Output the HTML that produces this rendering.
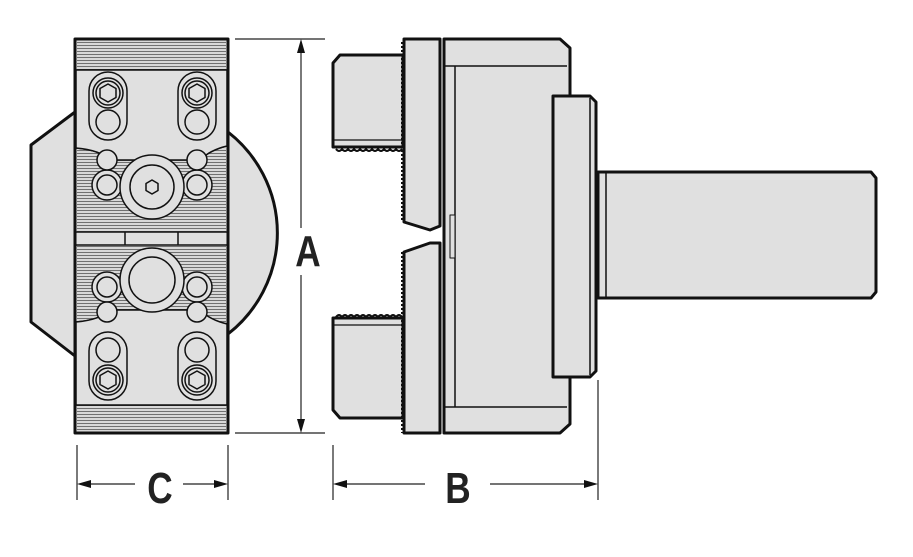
<!DOCTYPE html>
<html><head><style>html,body{margin:0;padding:0;background:#fff;width:913px;height:557px;overflow:hidden}</style></head>
<body>
<svg width="913" height="557" viewBox="0 0 913 557" xmlns="http://www.w3.org/2000/svg">
<defs>
<pattern id="kn" width="6" height="3" patternUnits="userSpaceOnUse"><rect width="6" height="3" fill="#d8d8d8"/><line x1="0" y1="0.5" x2="6" y2="0.5" stroke="#555" stroke-width="0.8"/></pattern>
</defs>
<g stroke="#111" fill="#e0e0e0" stroke-linejoin="round">
<!-- left view back disk -->
<path d="M75,112 L31,145 L31,322 L75,356 Z" stroke-width="3"/>
<path d="M228,132 A128,128 0 0 1 228,334 Z" stroke-width="3"/>
<!-- main rect -->
<rect x="75" y="39" width="153" height="394" stroke-width="3"/>
<rect x="77" y="41" width="149" height="29" fill="url(#kn)" stroke="none"/>
<rect x="77" y="405" width="149" height="26" fill="url(#kn)" stroke="none"/>
<rect x="77" y="148" width="149" height="84" fill="url(#kn)" stroke="none"/>
<rect x="77" y="245" width="149" height="77" fill="url(#kn)" stroke="none"/>
<path d="M76,70 H227 M76,405 H227" stroke-width="1.5"/>
<path d="M76,148 Q100,150 110,160 H200 Q210,150 227,146 M76,232 H227 M76,245 H227 M125,232 V245 M178,232 V245 M76,322 Q100,320 110,310 H200 Q210,320 227,324" stroke-width="1.5" fill="none"/>
<path d="M76,70 H227 V146 Q210,150 200,160 H110 Q100,150 76,148 Z" stroke-width="1.5"/>
<path d="M76,405 H227 V324 Q210,320 200,310 H110 Q100,320 76,322 Z" stroke-width="1.5"/>
<!-- slotted holes -->
<g stroke-width="1.5">
<rect x="89" y="72" width="38" height="68" rx="19"/><circle cx="108" cy="93" r="15"/><circle cx="108" cy="93" r="12"/><path d="M108,84 l8,4.5 v9 l-8,4.5 l-8,-4.5 v-9 z"/><circle cx="108" cy="122" r="12"/>
<rect x="178" y="72" width="38" height="68" rx="19"/><circle cx="197" cy="93" r="15"/><circle cx="197" cy="93" r="12"/><path d="M197,84 l8,4.5 v9 l-8,4.5 l-8,-4.5 v-9 z"/><circle cx="197" cy="122" r="12"/>
<rect x="89" y="332" width="38" height="68" rx="19"/><circle cx="108" cy="380" r="15"/><circle cx="108" cy="380" r="12"/><path d="M108,371 l8,4.5 v9 l-8,4.5 l-8,-4.5 v-9 z"/><circle cx="108" cy="350" r="12"/>
<rect x="178" y="332" width="38" height="68" rx="19"/><circle cx="197" cy="380" r="15"/><circle cx="197" cy="380" r="12"/><path d="M197,371 l8,4.5 v9 l-8,4.5 l-8,-4.5 v-9 z"/><circle cx="197" cy="350" r="12"/>
<!-- figure-8 details -->
<circle cx="107" cy="185" r="15"/><circle cx="107" cy="185" r="10"/><circle cx="107" cy="160" r="10"/>
<circle cx="197" cy="185" r="15"/><circle cx="197" cy="185" r="10"/><circle cx="197" cy="160" r="10"/>
<circle cx="152" cy="187" r="32"/><circle cx="152" cy="187" r="22"/><path d="M152,180 l6,3.5 v7 l-6,3.5 l-6,-3.5 v-7 z"/>
<circle cx="107" cy="287" r="15"/><circle cx="107" cy="287" r="10"/><circle cx="107" cy="312" r="10"/>
<circle cx="197" cy="287" r="15"/><circle cx="197" cy="287" r="10"/><circle cx="197" cy="312" r="10"/>
<circle cx="152" cy="280" r="32"/><circle cx="152" cy="280" r="23"/>
</g>
<!-- side view -->
<path d="M340,55 H403 V147 H333 V63 Z" stroke-width="3"/>
<path d="M333,318 H403 V418 H340 L333,410 Z" stroke-width="3"/>
<path d="M333,140 H403 M333,325 H403" stroke-width="1.2"/>
<path d="M336,149 q3,4 6,0 q3,4 6,0 q3,4 6,0 q3,4 6,0 q3,4 6,0 q3,4 6,0 q3,4 6,0 q3,4 6,0 q3,4 6,0 q3,4 6,0 q3,4 6,0" stroke-width="2" fill="none"/>
<path d="M336,317 q3,-4 6,0 q3,-4 6,0 q3,-4 6,0 q3,-4 6,0 q3,-4 6,0 q3,-4 6,0 q3,-4 6,0 q3,-4 6,0 q3,-4 6,0 q3,-4 6,0 q3,-4 6,0" stroke-width="2" fill="none"/>
<!-- clamp plates -->
<path d="M404,39 H440 V226 L430,230 L404,222 Z" stroke-width="3"/>
<path d="M404,252 L430,243 L440,243 V433 H404 Z" stroke-width="3"/>
<path d="M403,42 V222 M403,252 V433" stroke="#111" stroke-width="4" stroke-dasharray="2 2"/>
<!-- main body -->
<path d="M444,39 H560 L570,48 V424 L560,433 H444 Z" stroke-width="3"/>
<path d="M444,66 H567 M444,407 H567 M455,66 V407" stroke-width="1.5"/>
<rect x="450" y="215" width="5" height="43" stroke-width="1"/>
<!-- flange -->
<path d="M553,96 H590 L596,102 V371 L590,377 H553 Z" stroke-width="3"/>
<path d="M590,98 V375" stroke-width="1.5"/>
<!-- shank -->
<path d="M598,172 H871 L876,178 V292 L871,298 H598 Z" stroke-width="3"/>
<path d="M606,172 V298" stroke-width="1.5"/>
</g>
<!-- dimensions -->
<g stroke="#222" stroke-width="1.2" fill="none">
<path d="M235,39 H325 M235,433 H325 M301,45 V228 M301,275 V427"/>
<path d="M77,445 V500 M228,445 V500 M333,445 V500 M598,380 V500"/>
<path d="M83,484 H135 M183,484 H222 M339,484 H425 M490,484 H592"/>
</g>
<g fill="#111">
<path d="M301,39 l-4,14 h8 z M301,433 l-4,-14 h8 z"/>
<path d="M77,484 l14,-4 v8 z M228,484 l-14,-4 v8 z M333,484 l14,-4 v8 z M598,484 l-14,-4 v8 z"/>
</g>
<g font-family="Liberation Sans, sans-serif" font-weight="bold" font-size="44" fill="#222" text-anchor="middle">
<text x="0" y="0" transform="translate(308,266) scale(0.8,1)">A</text>
<text x="0" y="0" transform="translate(160,503) scale(0.8,1)">C</text>
<text x="0" y="0" transform="translate(458,503) scale(0.8,1)">B</text>
</g>
</svg>
</body></html>
